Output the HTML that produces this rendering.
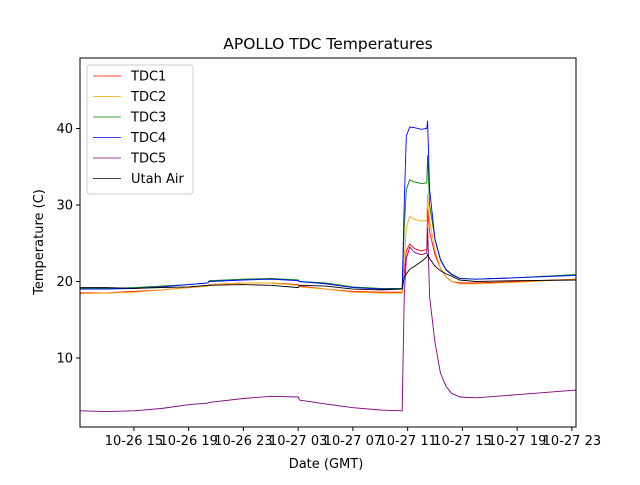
<!DOCTYPE html>
<html><head><meta charset="utf-8"><style>
body{margin:0;background:#fff;}
svg text{font-family:"DejaVu Sans","Liberation Sans",sans-serif;}
</style></head><body>
<svg id="chart" width="640" height="480" viewBox="0 0 640 480" xmlns="http://www.w3.org/2000/svg">
<rect width="640" height="480" fill="#fff"/>
<text x="328" y="49" font-size="15.5" text-anchor="middle">APOLLO TDC Temperatures</text>
<g id="series"></g>
<g id="axes"></g>
<rect x="80" y="58" width="496" height="369" fill="none" stroke="#000" stroke-width="1"/>
<text x="326" y="468" font-size="13" text-anchor="middle">Date (GMT)</text>
<text transform="translate(43,242) rotate(-90)" font-size="13" text-anchor="middle">Temperature (C)</text>
<g id="legend"></g>
</svg>
<script>
const times = [11.1,13,15,17,19,20.4,20.5,23,25,27,27.1,29,31,33,34.6,34.75,34.9,35.15,35.5,36,36.4,36.46,36.6,37.0,37.4,37.8,38.2,38.8,40,43,47.3];
const tdc1 = [18.5,18.5,18.7,18.9,19.2,19.4,19.6,19.8,19.8,19.6,19.4,19.0,18.7,18.6,18.6,21,24,24.9,24.3,24.0,24.2,29.5,26.5,23.5,21.7,20.6,20.0,19.8,19.8,20.0,20.3];
const tdc2 = [18.4,18.5,18.6,18.9,19.2,19.4,19.6,19.8,19.8,19.5,19.3,19.0,18.6,18.5,18.5,23,27,28.5,28.1,27.9,28.0,31.5,28,24,21.7,20.6,20.0,19.7,19.7,19.9,20.3];
const tdc3 = [19.1,19.1,19.2,19.4,19.6,19.8,20.1,20.3,20.4,20.2,20.0,19.8,19.3,19.1,19.1,27,32,33.3,33.0,32.8,32.9,36.5,30,25.5,22.9,21.6,21.0,20.4,20.3,20.5,20.9];
const tdc4 = [19.0,19.0,19.1,19.3,19.6,19.8,20.0,20.2,20.3,20.1,20.0,19.7,19.2,19.0,19.0,30,39,40.2,40.1,39.9,40.0,41.0,32,25.5,22.8,21.5,20.9,20.4,20.3,20.5,20.8];
const tdc5 = [3.1,3.0,3.1,3.4,3.9,4.1,4.2,4.7,5.0,4.9,4.5,4.0,3.5,3.2,3.1,18,23,24.5,23.8,23.5,23.7,27,18,12,8,6.3,5.4,4.9,4.8,5.2,5.8];
const utahAir = [19.2,19.2,19.1,19.2,19.3,19.5,19.5,19.6,19.5,19.2,19.5,19.4,19.0,18.9,19.0,20.5,21,21.6,22,22.6,23.2,23.5,23,22,21.4,21.0,20.7,20.2,20.0,20.1,20.2];
const seriesNames = ["TDC1","TDC2","TDC3","TDC4","TDC5","Utah Air"];
const yTicks = [10,20,30,40];
const xTickHours = [15,19,23,27,31,35,39,43,47];
const xTickLabels = ["10-26 15","10-26 19","10-26 23","10-27 03","10-27 07","10-27 11","10-27 15","10-27 19","10-27 23"];

const colors = ["#ff0000","#ffa500","#008000","#0000ff","#800080","#000000"];
const allData = [tdc1,tdc2,tdc3,tdc4,tdc5,utahAir];
const NS="http://www.w3.org/2000/svg";
const L=80,R=576,T=58,B=427, h0=11.06,h1=47.3, y0=0;
const sx=h=>L+(h-h0)/(h1-h0)*(R-L);
const sy=v=>434.5-(v-y0)*7.65;
const sg=document.getElementById('series');
allData.forEach((arr,i)=>{
  const p=document.createElementNS(NS,'polyline');
  p.setAttribute('points',arr.map((v,j)=>sx(times[j]).toFixed(1)+','+sy(v).toFixed(1)).join(' '));
  p.setAttribute('fill','none');p.setAttribute('stroke',colors[i]);p.setAttribute('stroke-width','0.9');
  
  
  sg.appendChild(p);
});
const ax=document.getElementById('axes');
yTicks.forEach(v=>{
  const y=sy(v);
  const l=document.createElementNS(NS,'line');
  l.setAttribute('x1',L-4);l.setAttribute('x2',L);l.setAttribute('y1',y);l.setAttribute('y2',y);l.setAttribute('stroke','#000');
  
  
  ax.appendChild(l);
  const t=document.createElementNS(NS,'text');
  t.setAttribute('x',L-7);t.setAttribute('y',y+4.5);t.setAttribute('font-size','13');t.setAttribute('text-anchor','end');
  t.textContent=v;
  
  
  ax.appendChild(t);
});
xTickHours.forEach((h,i)=>{
  const x=sx(h);
  const l=document.createElementNS(NS,'line');
  l.setAttribute('x1',x);l.setAttribute('x2',x);l.setAttribute('y1',B);l.setAttribute('y2',B+4);l.setAttribute('stroke','#000');
  
  
  ax.appendChild(l);
  const t=document.createElementNS(NS,'text');
  t.setAttribute('x',x);t.setAttribute('y',B+18);t.setAttribute('font-size','13');t.setAttribute('text-anchor','middle');
  t.textContent=xTickLabels[i];
  
  
  ax.appendChild(t);
});
const lg=document.getElementById('legend');
const box=document.createElementNS(NS,'rect');
box.setAttribute('x',87);box.setAttribute('y',65);box.setAttribute('width',106);box.setAttribute('height',129);box.setAttribute('rx',3);
box.setAttribute('fill','#fff');box.setAttribute('fill-opacity','0.8');box.setAttribute('stroke','#ccc');


lg.appendChild(box);
seriesNames.forEach((n,i)=>{
  const y=76+i*20.5;
  const l=document.createElementNS(NS,'line');
  l.setAttribute('x1',93);l.setAttribute('x2',121);l.setAttribute('y1',y);l.setAttribute('y2',y);l.setAttribute('stroke',colors[i]);l.setAttribute('stroke-width','1');l.setAttribute('stroke-opacity','0.75');
  
  
  lg.appendChild(l);
  const t=document.createElementNS(NS,'text');
  t.setAttribute('x',131);t.setAttribute('y',y+4.5);t.setAttribute('font-size','13');
  t.textContent=n;
  
  
  lg.appendChild(t);
});
</script>
</body></html>
